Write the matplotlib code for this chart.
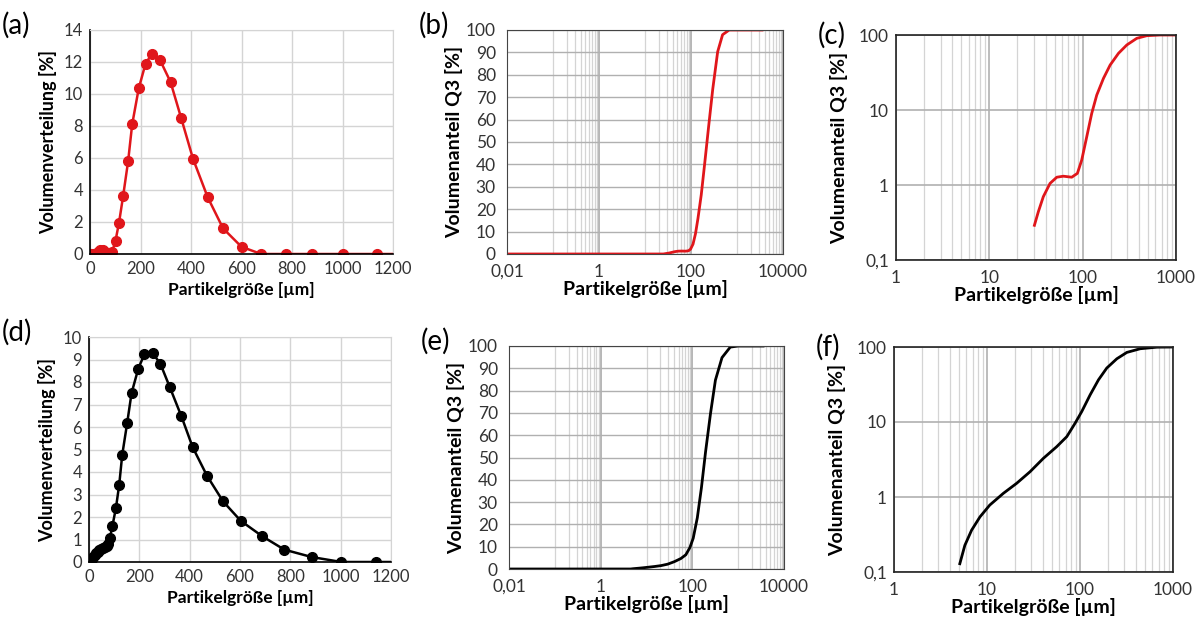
import numpy as np
import matplotlib
matplotlib.use("Agg")
import matplotlib.pyplot as plt
from matplotlib.ticker import FixedLocator, FixedFormatter, NullFormatter

plt.rcParams['font.family'] = ['Lato', 'DejaVu Sans']

# --- data ------------------------------------------------------------------
# (a) volume distribution, red sample
size_a = [0, 2, 5, 10, 20, 30, 40, 50, 61, 70, 79, 88, 101, 115, 131, 151, 167,
          193, 220, 245, 278, 319, 361, 408, 466, 527, 600, 678, 775, 879, 1000,
          1135, 1290]
dist_a = [0, 0, 0, 0, 0.03, 0.15, 0.25, 0.22, 0.15, 0.02, 0, 0.15, 0.83, 1.96,
          3.6, 5.8, 8.1, 10.35, 11.9, 12.5, 12.1, 10.75, 8.5, 5.95, 3.55, 1.6,
          0.45, 0, 0, 0, 0, 0, 0]

# (d) volume distribution, black sample
size_d = [0, 4, 8, 12, 17, 22, 28, 34, 40, 47, 54, 62, 70, 77, 83, 93, 107, 120,
          132, 152, 169, 196, 220, 253, 284, 320, 367, 412, 469, 533, 603, 689,
          776, 885, 1003, 1139, 1290]
dist_d = [0, 0.03, 0.08, 0.15, 0.22, 0.3, 0.38, 0.45, 0.52, 0.58, 0.62, 0.67,
          0.72, 0.8, 1.06, 1.6, 2.4, 3.43, 4.76, 6.2, 7.5, 8.6, 9.23, 9.29, 8.8,
          7.8, 6.48, 5.1, 3.83, 2.69, 1.83, 1.14, 0.55, 0.22, 0, 0, 0]

# (b)/(c) cumulative Q3, red sample
size_r = [0.01, 25, 30.4, 33.5, 37.9, 44.7, 52.8, 62.1, 76.4, 87.8, 97.7, 110.6,
          125, 141.5, 167, 197, 242, 297, 380, 486, 676, 1000, 3500]
q3_r = [0, 0, 0.29, 0.44, 0.70, 1.05, 1.27, 1.31, 1.27, 1.43, 2.15, 4.4, 9.0,
        15.8, 26.4, 39.8, 57, 73.6, 90.3, 97.9, 100, 100, 100]

# (e)/(f) cumulative Q3, black sample
size_k = [0.01, 4.5, 5.1, 5.78, 6.83, 8.4, 10.7, 15, 20.8, 29, 40.4, 56.2, 72.1,
          88.6, 104.5, 128.5, 158, 194, 249, 319, 444, 672, 1000, 3500]
q3_k = [0, 0, 0.129, 0.227, 0.361, 0.543, 0.78, 1.12, 1.52, 2.17, 3.28, 4.69,
        6.38, 9.64, 13.8, 23, 36.5, 52.4, 69.7, 84.7, 94.8, 99.5, 100, 100]

RED = '#e0161b'
BLACK = '#000000'
XLAB = 'Partikelgröße [µm]'
GRID = '#d4d4d4'
GRID_MAJ = '#b0b0b0'

W, H = 1197, 620
fig = plt.figure(figsize=(W / 100, H / 100), dpi=100)


def add_ax(left, top, right, bottom):
    return fig.add_axes([left / W, 1 - bottom / H, (right - left) / W, (bottom - top) / H])


def style_ticks(ax, size=12.5, xpad=5, ypad=5):
    ax.tick_params(which='both', length=0, labelsize=size, colors='#333333')
    ax.tick_params(axis='x', pad=xpad)
    ax.tick_params(axis='y', pad=ypad)


def dist_panel(ax, x, y, color, ymax, ystep, label):
    ax.plot(x, y, '-o', color=color, lw=1.8, ms=7, clip_on=True)
    ax.set_xlim(0, 1200)
    ax.set_ylim(0, ymax)
    ax.set_xticks(np.arange(0, 1201, 200))
    ax.set_yticks(np.arange(0, ymax + 0.1, ystep))
    ax.grid(True, color=GRID, lw=1)
    ax.set_axisbelow(True)
    for s in ('top', 'right'):
        ax.spines[s].set_color(GRID)
    for s in ('left', 'bottom'):
        ax.spines[s].set_color('black')
        ax.spines[s].set_linewidth(1.2)
    style_ticks(ax, 12)
    ax.set_xlabel(XLAB, fontsize=12.5, fontweight='bold', labelpad=4)
    ax.set_ylabel('Volumenverteilung [%]', fontsize=13, fontweight='bold', labelpad=5)
    ax.text(-0.29, 1.02, label, transform=ax.transAxes, fontsize=20, va='center', ha='left')


def cum_lin_panel(ax, x, y, color, label):
    ax.plot(x, y, '-', color=color, lw=2)
    ax.set_xscale('log')
    ax.set_xlim(0.01, 10000)
    ax.set_ylim(0, 100)
    majors = [0.01, 1, 100, 10000]
    ax.xaxis.set_major_locator(FixedLocator(majors))
    ax.xaxis.set_major_formatter(FixedFormatter(['0,01', '1', '100', '10000']))
    minors = [k * 10.0 ** e for e in (-1, 1, 3) for k in range(1, 10)]
    ax.xaxis.set_minor_locator(FixedLocator(minors))
    ax.xaxis.set_minor_formatter(NullFormatter())
    ax.set_yticks(np.arange(0, 101, 10))
    ax.grid(True, which='major', axis='x', color=GRID_MAJ, lw=1.3)
    ax.grid(True, which='minor', axis='x', color=GRID, lw=0.9)
    ax.grid(True, which='major', axis='y', color=GRID_MAJ, lw=1)
    ax.set_axisbelow(True)
    for s in ax.spines.values():
        s.set_color('#444444')
    style_ticks(ax, xpad=7, ypad=8)
    ax.set_xlabel(XLAB, fontsize=14, fontweight='bold', labelpad=0)
    ax.set_ylabel('Volumenanteil Q3 [%]', fontsize=14, fontweight='bold', labelpad=2)
    ax.text(-0.32, 1.02, label, transform=ax.transAxes, fontsize=20, va='center', ha='left')


def cum_log_panel(ax, x, y, color, label):
    ax.plot(x, y, '-', color=color, lw=2)
    ax.set_xscale('log')
    ax.set_yscale('log', nonpositive='mask')
    ax.set_xlim(1, 1000)
    ax.set_ylim(0.1, 100)
    ax.xaxis.set_major_locator(FixedLocator([1, 10, 100, 1000]))
    ax.xaxis.set_major_formatter(FixedFormatter(['1', '10', '100', '1000']))
    ax.xaxis.set_minor_locator(FixedLocator([k * 10.0 ** e for e in (0, 1, 2) for k in range(2, 10)]))
    ax.xaxis.set_minor_formatter(NullFormatter())
    ax.yaxis.set_major_locator(FixedLocator([0.1, 1, 10, 100]))
    ax.yaxis.set_major_formatter(FixedFormatter(['0,1', '1', '10', '100']))
    ax.yaxis.set_minor_locator(FixedLocator([]))
    ax.grid(True, which='major', color=GRID_MAJ, lw=1.2)
    ax.grid(True, which='minor', axis='x', color=GRID, lw=0.9)
    ax.set_axisbelow(True)
    for s in ax.spines.values():
        s.set_color('#222222')
        s.set_linewidth(1.2)
    style_ticks(ax, xpad=7)
    ax.set_xlabel(XLAB, fontsize=14, fontweight='bold', labelpad=0)
    ax.set_ylabel('Volumenanteil Q3 [%]', fontsize=14, fontweight='bold', labelpad=8)
    ax.text(-0.28, 1.0, label, transform=ax.transAxes, fontsize=20, va='center', ha='left')


ax_a = add_ax(90, 30, 393, 254)
dist_panel(ax_a, size_a, dist_a, RED, 14, 2, '(a)')

ax_b = add_ax(507, 30, 783, 254)
cum_lin_panel(ax_b, size_r, q3_r, RED, '(b)')

ax_c = add_ax(896, 35, 1176, 260)
cum_log_panel(ax_c, size_r, q3_r, RED, '(c)')

ax_d = add_ax(89, 337, 391, 562)
dist_panel(ax_d, size_d, dist_d, BLACK, 10, 1, '(d)')

ax_e = add_ax(509, 346, 784, 569)
cum_lin_panel(ax_e, size_k, q3_k, BLACK, '(e)')

ax_f = add_ax(894, 347, 1173, 572)
cum_log_panel(ax_f, size_k, q3_k, BLACK, '(f)')

fig.savefig('out.png', dpi=100)
